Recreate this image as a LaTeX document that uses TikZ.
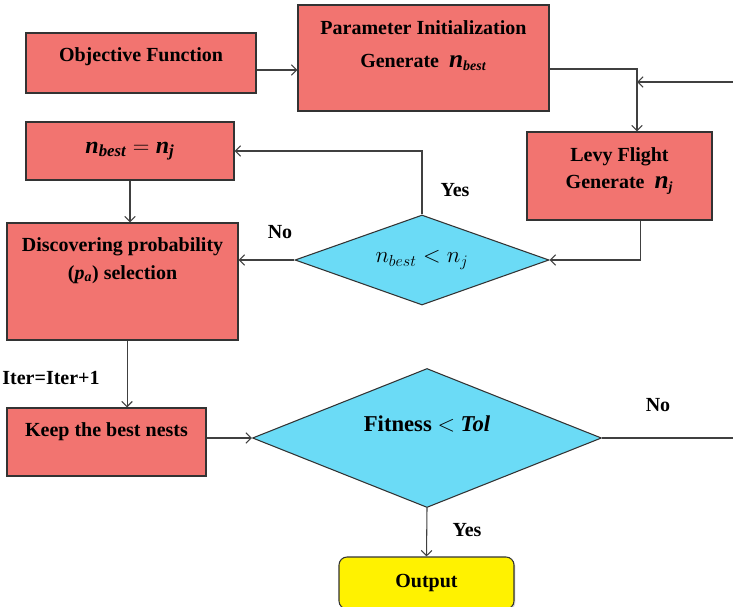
\documentclass[tikz,border=0pt]{standalone}
\usepackage{xcolor}
\usepackage{tikz}
\usepackage{amsmath}
\usepackage{fontspec}
\setmainfont{Liberation Serif}
\usetikzlibrary{shapes.geometric,arrows.meta,shadows}
\definecolor{BoxRed}{HTML}{F27470}
\definecolor{Sky}{HTML}{6BDBF6}
\definecolor{Lemon}{HTML}{FFF200}
\definecolor{Edge}{HTML}{333333}
\definecolor{Wire}{HTML}{404040}

\begin{document}
\begin{tikzpicture}[x=0.75pt,y=-0.75pt]
  \tikzstyle{proc}=[draw=Edge, fill=BoxRed, line width=0.8pt, inner sep=0pt, align=center,
    drop shadow={shadow xshift=1pt, shadow yshift=-1pt, opacity=0.3},
    font=\fontsize{15}{18}\selectfont\bfseries]
  \tikzstyle{cond}=[diamond, draw=Edge, fill=Sky, line width=0.8pt, inner sep=0pt, align=center]
  \tikzstyle{lbl}=[inner sep=0pt, font=\fontsize{15}{18}\selectfont\bfseries]
  \tikzstyle{arr}=[-{Straight Barb[length=4pt,width=8pt]}, line width=0.8pt, color=Wire]
  \useasboundingbox (0,0) rectangle (733,607);
  \node[proc, minimum width=172.5pt, text height=21pt, text depth=24pt] (obj) at (141,63) {Objective Function};
  \node[proc, minimum width=188.25pt, text height=46.5pt, text depth=33pt] (param) at (423.5,58) {Parameter Initialization\\[6.75pt]Generate\enspace{\fontsize{19}{19}\selectfont\textit{n}}\textsubscript{\textit{best}}};
  \node[proc, minimum width=138.75pt, text height=42pt, text depth=24pt] (levy) at (619.5,176) {Levy Flight\\[2.25pt]Generate\enspace{\fontsize{19}{19}\selectfont\textit{n}}\textsubscript{\textit{j}}};
  \node[proc, minimum width=156pt, minimum height=43.5pt, font=\fontsize{18}{20}\selectfont\bfseries] (nbj) at (130,151) {$\textit{n}_{\textit{best}}=\textit{n}_{\textit{j}}$};
  \node[proc, minimum width=173.25pt, text height=42pt, text depth=45.75pt] (disc) at (122.5,281.5) {Discovering probability\\[3pt](\textit{p}\textsubscript{\textit{a}}) selection};
  \node[proc, minimum width=149.25pt, text height=21pt, text depth=30pt] (keep) at (106.5,442) {Keep the best nests};
  \node[proc, fill=Lemon, rounded corners=6pt, minimum width=131.25pt, minimum height=39pt] (out) at (426.5,583) {Output};
  \node[cond, aspect=2.8, minimum width=190.5pt, minimum height=67.5pt, font=\fontsize{17}{20}\selectfont] (d1) at (422,260) {$n_{best}<n_j$};
  \node[cond, aspect=2.5, minimum width=261.75pt, minimum height=104.25pt, text height=9pt, text depth=19.5pt,
    font=\fontsize{17}{20}\selectfont\bfseries] (d2) at (427,438) {Fitness $<$ \textit{Tol}};
  \coordinate (tr) at (637,69);
  \coordinate (rin) at (733,82);
  \coordinate (rout) at (733,438);
  \draw[arr] ([yshift=-5.25pt]obj.east) -- ([yshift=-5.25pt]obj.east -| param.west);
  \draw[arr] (param.east |- tr) -- (tr) -- (tr |- levy.north);
  \draw[arr] (rin) -- (rin -| tr);
  \draw[arr] ([xshift=15.4pt]levy.south) |- (d1.east);
  \draw[arr] (d1.north) |- (nbj.east);
  \draw[arr] (d1.west) -- (d1.west -| disc.east);
  \draw[arr] (nbj.south) -- (nbj.south |- disc.north);
  \draw[arr] ([xshift=3.4pt]disc.south) -- ([xshift=3.4pt]disc.south |- keep.north);
  \draw[arr] (keep.east |- d2.west) -- (d2.west);
  \draw[line width=0.8pt, color=Wire] (d2.east) -- (rout);
  \draw[arr] (d2.south) -- (out.north);
  \node[lbl] (yes1) at (455,190) {Yes};
  \node[lbl] (no1) at (280,232) {No};
  \node[lbl] (iter) at (51,378) {Iter=Iter+1};
  \node[lbl] (no2) at (658,405) {No};
  \node[lbl] (yes2) at (467,530) {Yes};
\end{tikzpicture}
\end{document}
